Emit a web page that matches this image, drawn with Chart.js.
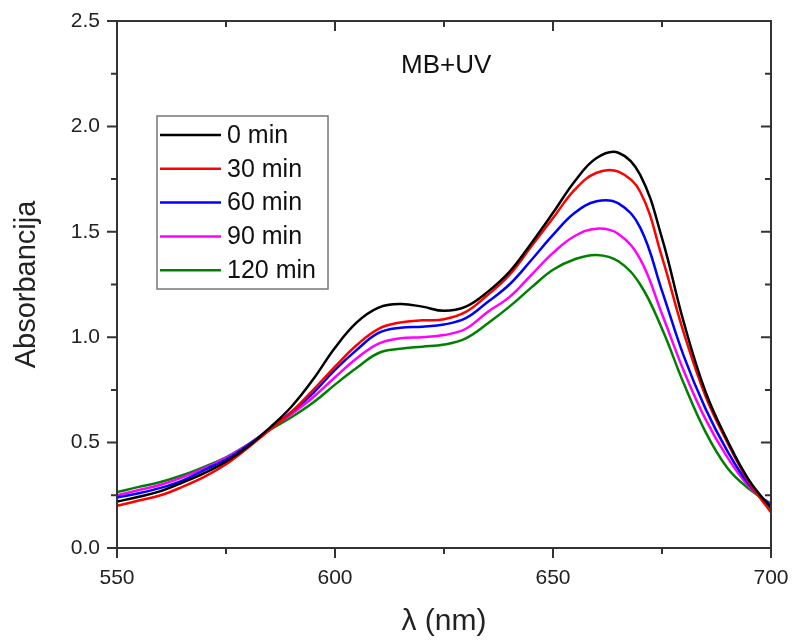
<!DOCTYPE html>
<html>
<head>
<meta charset="utf-8">
<script src="https://cdn.jsdelivr.net/npm/chart.js@4.4.0/dist/chart.umd.min.js"></script>
<style>
  html, body { margin: 0; padding: 0; background: #fff; }
</style>
</head>
<body>
<canvas id="chart" width="794" height="640"></canvas>
<script>
// talasna duljina (nm)
const wavelengths = [550, 555, 560, 565, 570, 575, 580, 585, 590, 595, 600, 605, 610, 615, 620, 625,
  630, 635, 640, 645, 650, 655, 660, 665, 670, 675, 680, 685, 690, 695, 700];

// apsorbancija po vremenu ozracivanja
const abs0 = [0.22, 0.243, 0.27, 0.31, 0.355, 0.41, 0.48, 0.57, 0.67, 0.80, 0.95, 1.07, 1.14, 1.157, 1.145, 1.125,
  1.145, 1.215, 1.31, 1.445, 1.59, 1.74, 1.85, 1.875, 1.77, 1.47, 1.07, 0.74, 0.51, 0.32, 0.19];
const abs30 = [0.20, 0.225, 0.25, 0.29, 0.337, 0.397, 0.475, 0.56, 0.645, 0.75, 0.86, 0.963, 1.04, 1.07, 1.08, 1.085,
  1.12, 1.20, 1.295, 1.43, 1.565, 1.70, 1.78, 1.785, 1.69, 1.38, 1.02, 0.72, 0.50, 0.31, 0.17];
const abs60 = [0.24, 0.26, 0.285, 0.32, 0.37, 0.42, 0.487, 0.565, 0.645, 0.735, 0.845, 0.94, 1.02, 1.045, 1.05, 1.06,
  1.09, 1.167, 1.25, 1.365, 1.485, 1.59, 1.645, 1.635, 1.52, 1.22, 0.91, 0.66, 0.46, 0.30, 0.20];
const abs90 = [0.25, 0.275, 0.30, 0.335, 0.378, 0.428, 0.49, 0.565, 0.635, 0.715, 0.81, 0.90, 0.97, 0.995, 1.00, 1.01,
  1.04, 1.12, 1.19, 1.295, 1.40, 1.48, 1.515, 1.49, 1.37, 1.11, 0.84, 0.61, 0.43, 0.29, 0.20];
const abs120 = [0.265, 0.29, 0.313, 0.345, 0.385, 0.43, 0.49, 0.56, 0.62, 0.69, 0.775, 0.855, 0.925, 0.945, 0.955, 0.965,
  0.995, 1.065, 1.145, 1.235, 1.32, 1.37, 1.39, 1.36, 1.25, 1.04, 0.78, 0.55, 0.38, 0.28, 0.21];

const seriesLabels = ['0 min', '30 min', '60 min', '90 min', '120 min'];
const seriesColors = ['#000000', '#ff0000', '#0000ff', '#ff00ff', '#008000'];
const seriesValues = [abs0, abs30, abs60, abs90, abs120];

const xMajor = [550, 600, 650, 700];
const xMinor = [575, 625, 675];
const yMajor = [0, 0.5, 1.0, 1.5, 2.0, 2.5];
const yMinor = [0.25, 0.75, 1.25, 1.75, 2.25];

const FONT = '"Liberation Sans", Arial, sans-serif';

// okvir s glavnim i pomocnim oznakama + legenda unutar grafa
const framePlugin = {
  id: 'frame',
  afterDraw(chart) {
    const ctx = chart.ctx;
    const a = chart.chartArea;
    const xs = chart.scales.x, ys = chart.scales.y;
    ctx.save();
    ctx.strokeStyle = '#333';
    ctx.lineWidth = 2;
    ctx.strokeRect(a.left, a.top, a.right - a.left, a.bottom - a.top);
    ctx.beginPath();
    const tick = (vals, len) => {
      vals.forEach(v => {
        const px = xs.getPixelForValue(v);
        ctx.moveTo(px, a.bottom); ctx.lineTo(px, a.bottom + len); // dolje, van
        ctx.moveTo(px, a.top); ctx.lineTo(px, a.top + len);       // gore, unutra
      });
    };
    const tickY = (vals, len) => {
      vals.forEach(v => {
        const py = ys.getPixelForValue(v);
        ctx.moveTo(a.left, py); ctx.lineTo(a.left - len, py);   // lijevo, van
        ctx.moveTo(a.right, py); ctx.lineTo(a.right - len, py); // desno, unutra
      });
    };
    tick(xMajor, 10); tick(xMinor, 6);
    tickY(yMajor, 10); tickY(yMinor, 6);
    ctx.stroke();

    // legenda
    const lx = a.left + 40, ly = a.top + 95, lw = 171, lh = 173, row = 33.8;
    ctx.strokeStyle = '#777';
    ctx.lineWidth = 1.5;
    ctx.strokeRect(lx, ly, lw, lh);
    ctx.font = '25px ' + FONT;
    ctx.textBaseline = 'middle';
    chart.data.datasets.forEach((ds, i) => {
      const cy = ly + 19 + i * row;
      ctx.strokeStyle = ds.borderColor;
      ctx.lineWidth = 2.5;
      ctx.beginPath();
      ctx.moveTo(lx + 3, cy); ctx.lineTo(lx + 64, cy);
      ctx.stroke();
      ctx.fillStyle = '#111';
      ctx.fillText(ds.label, lx + 70, cy + 1);
    });

    // natpis uzorka
    ctx.font = '26px ' + FONT;
    ctx.textAlign = 'center';
    ctx.fillStyle = '#111';
    ctx.fillText('MB+UV', xs.getPixelForValue(625.5), a.top + 45);
    ctx.restore();
  }
};

new Chart(document.getElementById('chart'), {
  type: 'line',
  data: {
    datasets: seriesValues.map((vals, i) => ({
      label: seriesLabels[i],
      data: wavelengths.map((w, j) => ({ x: w, y: vals[j] })),
      borderColor: seriesColors[i],
      borderWidth: 2.5,
      pointRadius: 0,
      fill: false,
      tension: 0.4
    }))
  },
  options: {
    responsive: false,
    animation: false,
    layout: { padding: { left: 0, right: 23, top: 21, bottom: 0 } },
    plugins: { legend: { display: false }, tooltip: { enabled: false } },
    scales: {
      x: {
        type: 'linear',
        min: 550, max: 700,
        afterFit: s => { s.height = 92; s.paddingLeft = 0; s.paddingRight = 0; },
        afterBuildTicks: s => { s.ticks = xMajor.map(v => ({ value: v })); },
        grid: { display: false, drawTicks: false },
        border: { display: false },
        ticks: { padding: 18, color: '#222', font: { family: FONT, size: 21 } },
        title: { display: true, text: 'λ (nm)', color: '#222', padding: { top: 0, bottom: 0 },
          font: { family: FONT, size: 30 } }
      },
      y: {
        min: 0, max: 2.5,
        afterFit: s => { s.width = 117; s.paddingTop = 0; s.paddingBottom = 0; },
        afterBuildTicks: s => { s.ticks = yMajor.map(v => ({ value: v })); },
        grid: { display: false, drawTicks: false },
        border: { display: false },
        ticks: { padding: 17, color: '#222', font: { family: FONT, size: 21 },
          callback: v => v.toFixed(1) },
        title: { display: true, text: 'Absorbancija', color: '#222', padding: { top: 10, bottom: 0 },
          font: { family: FONT, size: 29 } }
      }
    }
  },
  plugins: [framePlugin]
});
</script>
</body>
</html>
